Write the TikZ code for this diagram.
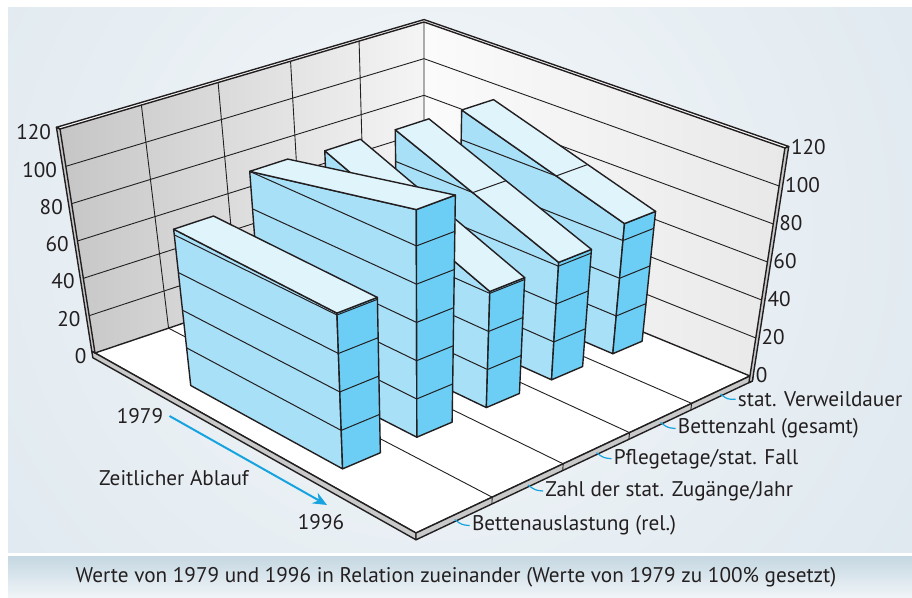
\documentclass[tikz,border=0pt]{standalone}
\usepackage{fontspec}
\setmainfont{PT Sans}
\usetikzlibrary{arrows.meta}

\definecolor{panelblue}{RGB}{207,222,232}
\definecolor{glow}{RGB}{244,247,249}
\definecolor{capA}{RGB}{198,216,226}
\definecolor{capB}{RGB}{240,245,248}
\definecolor{sideblue}{RGB}{168,224,248}
\definecolor{topblue}{RGB}{224,244,252}
\definecolor{endblue}{RGB}{108,206,244}
\definecolor{arrowblue}{RGB}{22,163,224}
\definecolor{inkgray}{RGB}{35,31,32}

% point on the chart: (time, category, height)
\newcommand{\cpt}[3]{({chx(#1,#2,#3)},{chy(#1,#2,#3)})}

% one slab: left category edge, height 1979, height 1996
\newcommand{\slab}[3]{%
  \pgfmathsetmacro{\cR}{#1+0.1}%
  \filldraw[sideface] \cpt{0.26}{#1}{0} -- \cpt{0.735}{#1}{0} -- \cpt{0.735}{#1}{#3} -- \cpt{0.26}{#1}{#2} -- cycle;
  \filldraw[endface] \cpt{0.735}{#1}{0} -- \cpt{0.735}{\cR}{0} -- \cpt{0.735}{\cR}{#3} -- \cpt{0.735}{#1}{#3} -- cycle;
  \filldraw[topface] \cpt{0.26}{#1}{#2} -- \cpt{0.735}{#1}{#3} -- \cpt{0.735}{\cR}{#3} -- \cpt{0.26}{\cR}{#2} -- cycle;
  \foreach \lv in {20,40,...,100}{%
    \pgfmathsetmacro{\tS}{0.26+(\lv-#2)/(#3-#2)*0.475}%
    \pgfmathsetmacro{\tA}{\lv<#2 ? 0.26 : \tS}%
    \pgfmathsetmacro{\tB}{\lv<#3 ? 0.735 : \tS}%
    \pgfmathtruncatemacro{\sideon}{\tB>\tA+0.001 ? 1 : 0}%
    \pgfmathtruncatemacro{\topon}{(\lv-#2)*(\lv-#3)<0 ? 1 : 0}%
    \pgfmathtruncatemacro{\endon}{\lv<#3 ? 1 : 0}%
    \ifnum\sideon=1 \draw[levelline] \cpt{\tA}{#1}{\lv} -- \cpt{\tB}{#1}{\lv};\fi
    \ifnum\topon=1 \draw[levelline] \cpt{\tS}{#1}{\lv} -- \cpt{\tS}{\cR}{\lv};\fi
    \ifnum\endon=1 \draw[levelline] \cpt{0.735}{#1}{\lv} -- \cpt{0.735}{\cR}{\lv};\fi
  }%
}

\begin{document}
\begin{tikzpicture}[x=0.5pt, y=-0.5pt,
  declare function={
    flw(\vt,\vc)=1-0.1633*\vt+0.15196*\vc;
    flx(\vt,\vc)=(253.07*\vt+393.43*\vc+95)/flw(\vt,\vc);
    fly(\vt,\vc)=(92.96*\vt-74.23*\vc+353)/flw(\vt,\vc);
    chx(\vt,\vc,\vh)=flx(\vt,\vc)+\vh/120*(-35+0.1068*(flx(\vt,\vc)-95)+0.0013*(fly(\vt,\vc)-353));
    chy(\vt,\vc,\vh)=fly(\vt,\vc)+\vh/120*(-224-0.004384*(flx(\vt,\vc)-95)-0.04903*(fly(\vt,\vc)-353));
  },
  every node/.style={font=\fontsize{10.6}{12.5}\selectfont, text=inkgray},
  outline/.style={draw=inkgray, line width=0.7pt, line join=round},
  gridline/.style={draw=inkgray, line width=0.45pt},
  levelline/.style={draw=inkgray, line width=0.5pt},
  sideface/.style={outline, fill=sideblue},
  endface/.style={outline, fill=endblue},
  topface/.style={outline, fill=topblue},
  rim/.style={outline, fill=gray!42},
  walltop/.style={outline, fill=white},
  axisnum/.style={inner sep=1pt},
  catlabel/.style={anchor=west, inner sep=1pt},
  leader/.style={draw=arrowblue, line width=0.6pt, rounded corners=1.5pt},
  timearrow/.style={draw=arrowblue, line width=1pt, -{Stealth[length=7pt, width=6pt]}},
]
\useasboundingbox (0,0) rectangle (912,598);

% background panel and caption bar
\begin{scope}
  \clip (8,8) rectangle (912,553);
  \shade[inner color=glow, outer color=panelblue] (430,230) circle (1000);
\end{scope}
\shade[top color=capA, bottom color=capB] (8,557) rectangle (912,598);

% walls
\shade[left color=gray!45, right color=gray!8] \cpt{0}{0}{0} -- \cpt{0}{1}{0} -- \cpt{0}{1}{120} -- \cpt{0}{0}{120} -- cycle;
\shade[left color=gray!3, right color=gray!18] \cpt{0}{1}{0} -- \cpt{1}{1}{0} -- \cpt{1}{1}{120} -- \cpt{0}{1}{120} -- cycle;
\foreach \lv in {20,40,...,100} {
  \draw[gridline] \cpt{0}{0}{\lv} -- \cpt{0}{1}{\lv} -- \cpt{1}{1}{\lv};
}
\foreach \cc in {0.2,0.4,0.6,0.8} {
  \draw[gridline] \cpt{0}{\cc}{0} -- \cpt{0}{\cc}{120};
}
\draw[gridline] \cpt{0}{1}{0} -- \cpt{0}{1}{120};

% floor
\filldraw[outline, fill=white] \cpt{0}{0}{0} -- \cpt{1}{0}{0} -- \cpt{1}{1}{0} -- \cpt{0}{1}{0} -- cycle;
\filldraw[rim] \cpt{-0.012}{0}{0} -- \cpt{1}{0}{0} -- \cpt{1}{0}{-3.5} -- \cpt{-0.012}{0}{-3.5} -- cycle;
\filldraw[rim] \cpt{1}{0}{0} -- \cpt{1}{1.012}{0} -- \cpt{1}{1.012}{-3.5} -- \cpt{1}{0}{-3.5} -- cycle;
\foreach \cc in {0.2,0.4,0.6,0.8} {
  \draw[gridline] \cpt{0}{\cc}{0} -- \cpt{1}{\cc}{0} -- \cpt{1}{\cc}{-3.5};
}

% wall edges
\filldraw[rim] \cpt{-0.012}{0}{0} -- \cpt{0}{0}{0} -- \cpt{0}{0}{120} -- \cpt{-0.012}{0}{120} -- cycle;
\filldraw[rim] \cpt{1}{1}{-3.5} -- \cpt{1}{1.012}{-3.5} -- \cpt{1}{1.012}{120} -- \cpt{1}{1}{120} -- cycle;
\filldraw[walltop] \cpt{-0.012}{0}{120} -- \cpt{0}{0}{120} -- \cpt{0}{1}{120} -- \cpt{1}{1}{120}
  -- \cpt{1}{1.012}{120} -- \cpt{-0.012}{1.012}{120} -- cycle;

% slabs, back to front
\slab{0.86}{96}{69}
\slab{0.66}{97}{62}
\slab{0.46}{98}{61}
\slab{0.26}{100}{119}
\slab{0.06}{83}{81}

% axis numbers
\foreach \lv in {0,20,...,120} {
  \path \cpt{-0.012}{0}{\lv} node[axisnum, anchor=east, xshift=-1.5pt, yshift=-2.5pt] (left\lv) {\lv};
  \path \cpt{1}{1.012}{\lv} node[axisnum, anchor=west, yshift=-0.5pt] (right\lv) {\lv};
}

% category labels
\path \cpt{1}{0.1}{-2.5} coordinate (k1);
\path \cpt{1}{0.3}{-2.5} coordinate (k2);
\path \cpt{1}{0.5}{-2.5} coordinate (k3);
\path \cpt{1}{0.7}{-2.5} coordinate (k4);
\path \cpt{1}{0.9}{-2.5} coordinate (k5);
\node[catlabel] (cat1) at ([shift={(15,6)}]k1) {Bettenauslastung (rel.)};
\node[catlabel] (cat2) at ([shift={(15,6)}]k2) {Zahl der stat. Zugänge/Jahr};
\node[catlabel] (cat3) at ([shift={(15,6)}]k3) {Pflegetage/stat. Fall};
\node[catlabel] (cat4) at ([shift={(15,6)}]k4) {Bettenzahl (gesamt)};
\node[catlabel] (cat5) at ([shift={(15,5)}]k5) {stat. Verweildauer};
\foreach \k in {1,...,5} {
  \draw[leader] (k\k) -- ++(7,5) -- (cat\k.west);
}

% time axis
\node[inner sep=3pt] (y79) at (140,416) {1979};
\node (y96) at (321,522) {1996};
\node (zeit) at (174,478) {Zeitlicher Ablauf};
\coordinate (tend) at (327,505);
\draw[timearrow] (y79.east) -- (tend);

% caption
\node (caption) at (456,577) {Werte von 1979 und 1996 in Relation zueinander (Werte von 1979 zu 100\% gesetzt)};
\end{tikzpicture}
\end{document}
